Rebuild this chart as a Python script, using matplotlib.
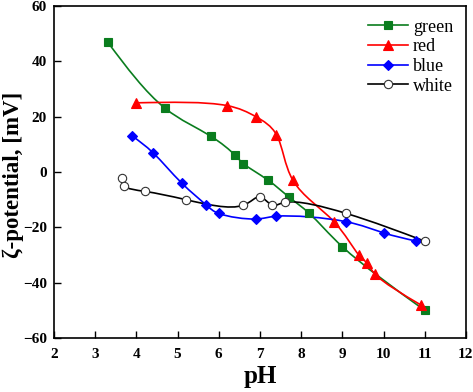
import numpy as np
import matplotlib
matplotlib.use("Agg")
import matplotlib.pyplot as plt
from matplotlib.path import Path
from matplotlib.patches import PathPatch

green_x = [3.3, 4.7, 5.8, 6.4, 6.6, 7.2, 7.7, 8.2, 9.0, 11.0]
green_y = [47, 23, 13, 6, 3, -3, -9, -15, -27, -50]
red_x = [4.0, 6.2, 6.9, 7.4, 7.8, 8.8, 9.4, 9.6, 9.8, 10.9]
red_y = [25, 24, 20, 13.5, -3, -18, -30, -33, -37, -48]
blue_x = [3.9, 4.4, 5.1, 5.7, 6.0, 6.9, 7.4, 9.1, 10.0, 10.8]
blue_y = [13, 7, -4, -12, -15, -17, -16, -18, -22, -25]
white_x = [3.65, 3.7, 4.2, 5.2, 6.6, 7.0, 7.3, 7.6, 9.1, 11.0]
white_y = [-2, -5, -7, -10, -12, -9, -12, -11, -15, -25]

plt.rcParams['font.family'] = ['Liberation Serif', 'DejaVu Serif']

fig = plt.figure(figsize=(4.73, 3.92), dpi=100)
ax = fig.add_axes([0.1142, 0.1378, 0.8708, 0.8469])
ax.set_xlim(2, 12)
ax.set_ylim(-60, 60)
fig.canvas.draw()


def spline_tangents(p, h):
    n = len(p)
    A = np.zeros((n, n))
    b = np.zeros((n, 2))
    A[0, 0], A[0, 1] = 2, 1
    b[0] = 3 * (p[1] - p[0]) / h[0]
    A[-1, -2], A[-1, -1] = 1, 2
    b[-1] = 3 * (p[-1] - p[-2]) / h[-1]
    for i in range(1, n - 1):
        A[i, i - 1] = h[i]
        A[i, i] = 2 * (h[i - 1] + h[i])
        A[i, i + 1] = h[i - 1]
        b[i] = 3 * (h[i] * (p[i] - p[i - 1]) / h[i - 1] + h[i - 1] * (p[i + 1] - p[i]) / h[i])
    return np.linalg.solve(A, b)


def smooth_path(ax, xs, ys, color):
    # parametric cubic spline through the data points, drawn as Bezier segments
    pts = ax.transData.transform(np.column_stack([xs, ys]))
    h = np.sqrt(np.linalg.norm(np.diff(pts, axis=0), axis=1))
    d = spline_tangents(pts, h)
    verts = [pts[0]]
    codes = [Path.MOVETO]
    for i in range(len(pts) - 1):
        c1 = pts[i] + d[i] * h[i] / 3
        c2 = pts[i + 1] - d[i + 1] * h[i] / 3
        verts += [c1, c2, pts[i + 1]]
        codes += [Path.CURVE4] * 3
    verts = ax.transData.inverted().transform(np.array(verts))
    ax.add_patch(PathPatch(Path(verts, codes), facecolor='none', edgecolor=color,
                           lw=1.2, zorder=2))


series = [
    (green_x, green_y, '#0a7d1e', 's', '#0a7d1e', 'green', 5.5),
    (red_x, red_y, '#ff0000', '^', '#ff0000', 'red', 7.5),
    (blue_x, blue_y, '#0000ff', 'D', '#0000ff', 'blue', 5.5),
    (white_x, white_y, '#000000', 'o', 'white', 'white', 6),
]
for xs, ys, c, m, fc, lab, ms in series:
    smooth_path(ax, xs, ys, c)
    mec = c if fc != 'white' else '#333333'
    ax.plot(xs, ys, linestyle='none', marker=m, color=c, mfc=fc, mec=mec,
            ms=ms, mew=0.8, zorder=3)
    ax.plot([], [], color=c, lw=1.2, marker=m, mfc=fc, mec=mec,
            ms=ms, mew=0.8, label=lab)

ax.set_xticks(range(2, 13))
ax.set_yticks(range(-60, 61, 20))
ax.tick_params(direction='in', length=5, width=1, top=False, right=False, labelsize=11)
ax.tick_params(axis='x', pad=7)
ax.tick_params(axis='y', pad=5)
for lbl in ax.get_xticklabels() + ax.get_yticklabels():
    lbl.set_fontweight('bold')
for s in ax.spines.values():
    s.set_linewidth(1.2)

ax.set_xlabel('pH', fontsize=18, fontweight='bold', labelpad=3)
ax.set_ylabel('ζ-potential, [mV]', fontsize=16.5, fontweight='bold', va='center')
ax.yaxis.set_label_coords(-0.1, 0.49)

ax.legend(loc='upper right', frameon=False, fontsize=13, handlelength=2.2,
          handletextpad=0.3, labelspacing=0.15, borderaxespad=0.3)

fig.savefig('out.png', dpi=100)
